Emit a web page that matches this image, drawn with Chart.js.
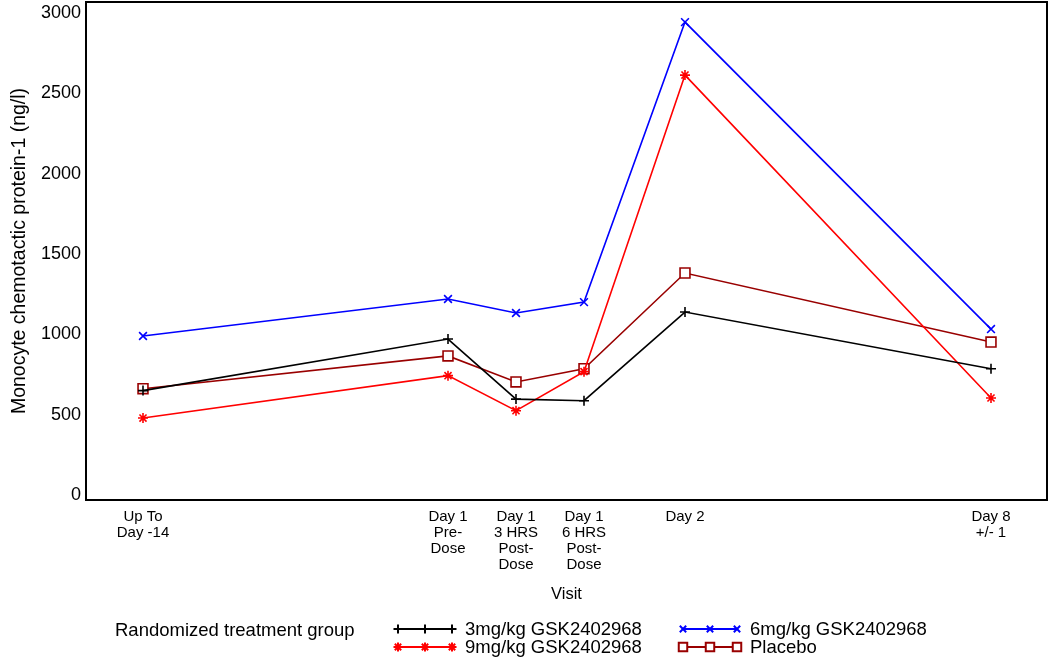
<!DOCTYPE html>
<html>
<head>
<meta charset="utf-8">
<script src="https://cdn.jsdelivr.net/npm/chart.js@4.4.1/dist/chart.umd.min.js"></script>
<style>
  body { margin: 0; background: #fff; }
  #wrap { width: 1050px; height: 660px; }
</style>
</head>
<body>
<div id="wrap"><canvas id="mcpChart" width="1050" height="660"></canvas></div>
<script>
// visits (x position follows the spacing used in the original plot)
const visitLabels = [
  ["Up To", "Day -14"],
  ["Day 1", "Pre-", "Dose"],
  ["Day 1", "3 HRS", "Post-", "Dose"],
  ["Day 1", "6 HRS", "Post-", "Dose"],
  ["Day 2"],
  ["Day 8", "+/- 1"]
];
const visitPos = [0, 305, 373, 441, 542, 848];

const yTicks = [0, 500, 1000, 1500, 2000, 2500, 3000];

const dose3 = [650, 971, 597, 587, 1139, 786];
const dose6 = [990, 1220, 1133, 1201, 2944, 1033];
const dose9 = [479, 743, 525, 768, 2614, 604];
const placebo = [662, 866, 704, 786, 1382, 952];

const groupNames = ["3mg/kg GSK2402968", "6mg/kg GSK2402968", "9mg/kg GSK2402968", "Placebo"];

function pts(vals) {
  return vals.map((v, i) => ({ x: visitPos[i], y: v }));
}

const FONT = "'Liberation Sans', Arial, sans-serif";

function noPad(scale) {
  scale.paddingTop = 0;
  scale.paddingBottom = 0;
  scale.paddingLeft = 0;
  scale.paddingRight = 0;
}

// frame round the plot + legend under it
const framePlugin = {
  id: "frame",
  afterDraw(chart) {
    const ctx = chart.ctx;
    const a = chart.chartArea;
    ctx.save();
    ctx.strokeStyle = "#000";
    ctx.lineWidth = 2;
    ctx.strokeRect(a.left, a.top, a.right - a.left, a.bottom - a.top);

    ctx.fillStyle = "#000";
    ctx.font = "18.5px " + FONT;
    ctx.textBaseline = "middle";
    ctx.textAlign = "left";
    ctx.fillText("Randomized treatment group", 115, 631);

    // legend order: 3mg, 9mg (col 1); 6mg, placebo (col 2)
    const slots = [
      { ds: 0, x: 398, y: 629 },
      { ds: 2, x: 398, y: 647 },
      { ds: 1, x: 683, y: 629 },
      { ds: 3, x: 683, y: 647 }
    ];
    slots.forEach(s => {
      const ds = chart.data.datasets[s.ds];
      ctx.strokeStyle = ds.borderColor;
      ctx.lineWidth = 2;
      ctx.beginPath();
      ctx.moveTo(s.x, s.y);
      ctx.lineTo(s.x + 54, s.y);
      ctx.stroke();
      [0, 27, 54].forEach(dx => {
        ctx.fillStyle = ds.pointBackgroundColor;
        ctx.strokeStyle = ds.borderColor;
        Chart.helpers.drawPoint(ctx, {
          pointStyle: ds.pointStyle,
          radius: ds.pointStyle === "rect" ? 6 : 4.5,
          rotation: 0,
          borderWidth: 2
        }, s.x + dx, s.y);
      });
      ctx.fillStyle = "#000";
      ctx.fillText(ds.label, s.x + 67, s.y + 1);
    });
    ctx.restore();
  }
};

new Chart(document.getElementById("mcpChart"), {
  type: "line",
  data: {
    datasets: [
      {
        label: groupNames[0],
        data: pts(dose3),
        borderColor: "#000000",
        pointBackgroundColor: "#000000",
        pointStyle: "cross",
        pointRadius: 5
      },
      {
        label: groupNames[1],
        data: pts(dose6),
        borderColor: "#0000ff",
        pointBackgroundColor: "#0000ff",
        pointStyle: "crossRot",
        pointRadius: 5.5
      },
      {
        label: groupNames[2],
        data: pts(dose9),
        borderColor: "#ff0000",
        pointBackgroundColor: "#ff0000",
        pointStyle: "star",
        pointRadius: 5
      },
      {
        label: groupNames[3],
        data: pts(placebo),
        borderColor: "#990000",
        pointBackgroundColor: "#ffffff",
        pointStyle: "rect",
        pointRadius: 7
      }
    ]
  },
  options: {
    responsive: false,
    animation: false,
    layout: { autoPadding: false, padding: { top: 2, right: 3, bottom: 0, left: 0 } },
    elements: {
      line: { borderWidth: 1.6, tension: 0 },
      point: { borderWidth: 1.6, hoverRadius: 6 }
    },
    plugins: {
      legend: { display: false },
      tooltip: { enabled: false }
    },
    scales: {
      x: {
        type: "linear",
        min: -57,
        max: 904,
        grid: { display: false, drawTicks: false },
        border: { display: false },
        afterBuildTicks(scale) {
          scale.ticks = visitPos.map(v => ({ value: v }));
        },
        afterFit(scale) {
          scale.height = 160;
          noPad(scale);
        },
        ticks: {
          padding: 9,
          maxRotation: 0,
          autoSkip: false,
          color: "#000",
          font: { family: FONT, size: 15, lineHeight: 1.07 },
          callback(value) {
            const i = visitPos.indexOf(value);
            return i >= 0 ? visitLabels[i] : "";
          }
        },
        title: {
          display: true,
          text: "Visit",
          color: "#000",
          font: { family: FONT, size: 16.5 },
          padding: { top: 0, bottom: 56 }
        }
      },
      y: {
        min: -31,
        max: 3069,
        grid: { display: false, drawTicks: false },
        border: { display: false },
        afterBuildTicks(scale) {
          scale.ticks = yTicks.map(v => ({ value: v }));
        },
        afterFit(scale) {
          scale.width = 86;
          noPad(scale);
        },
        ticks: {
          padding: 5,
          color: "#000",
          font: { family: FONT, size: 18 },
          callback(value) { return String(value); }
        },
        title: {
          display: true,
          text: "Monocyte chemotactic protein-1 (ng/l)",
          color: "#000",
          font: { family: FONT, size: 19.5 },
          padding: { top: 8, bottom: 0 }
        }
      }
    }
  },
  plugins: [framePlugin]
});
</script>
</body>
</html>
